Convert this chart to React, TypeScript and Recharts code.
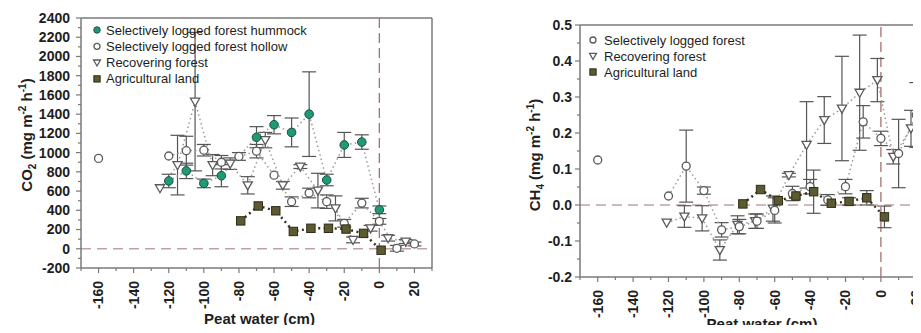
import React from "react";
import {
  ComposedChart,
  Line,
  XAxis,
  YAxis,
  ErrorBar,
  ReferenceLine,
  Label,
} from "recharts";

const FONT = "Arial, 'Liberation Sans', Helvetica, sans-serif";

// ---------- CO2 panel ----------
const hummockDepth = [-120, -110, -100, -90, -70, -60, -50, -40, -30, -20, -10, 0];
const hummockCO2 = [705, 810, 680, 760, 1160, 1290, 1210, 1400, 715, 1080, 1110, 405];
const hummockCO2Err = [70, 80, 45, 115, 110, 95, 150, 440, 60, 130, 75, 40];

// the deepest hollow reading stands alone (not joined to the rest)
const hollowFarDepth = [-160];
const hollowFarCO2 = [940];

const hollowDepth = [-120, -110, -100, -90, -80, -70, -60, -50, -40, -30, -20, -10, 0, 10, 20];
const hollowCO2 = [965, 1020, 1025, 900, 960, 1015, 765, 490, 580, 490, 265, 475, 285, 5, 50];
const hollowCO2Err = [0, 150, 60, 70, 40, 70, 0, 50, 50, 70, 40, 50, 30, 30, 20];

const recovDepth = [-125, -115, -105, -95, -85, -75, -65, -55, -45, -35, -25, -15, -5, 5, 15];
const recovCO2 = [630, 870, 1530, 870, 885, 660, 1130, 660, 855, 605, 420, 92, 213, 110, 75];
const recovCO2Err = [0, 310, 720, 110, 60, 90, 80, 40, 20, 180, 130, 30, 30, 30, 20];

const agriDepth = [-79, -69, -59, -49, -39, -29, -19, -9, 1];
const agriCO2 = [290, 445, 395, 180, 213, 213, 205, 160, -15];

const co2Ticks = [-200, -100, 0, 100, 200, 300, 400, 500, 600, 700, 800, 900, 1000, 1100, 1200, 1300, 1400, 1500, 1600, 1700, 1800, 1900, 2000, 2100, 2200, 2300, 2400];
const co2Labels = [-200, 0, 200, 400, 600, 800, 1000, 1200, 1400, 1600, 1800, 2000, 2200, 2400];

// ---------- CH4 panel ----------
const logFarDepth = [-160];
const logFarCH4 = [0.125];

const logDepth = [-120, -110, -100, -90, -80, -70, -60, -50, -40, -30, -20, -10, 0, 10, 20];
const logCH4 = [0.025, 0.108, 0.04, -0.069, -0.06, -0.045, -0.015, 0.032, 0.051, 0.014, 0.051, 0.231, 0.185, 0.143, 0.25];
const logCH4Err = [0, 0.1, 0.01, 0.02, 0.02, 0.02, 0.035, 0.02, 0.02, 0.015, 0.02, 0.045, 0.02, 0.095, 0.09];

const recovDepth2 = [-121, -111, -101, -91, -81, -71, -61, -52, -42, -32, -22, -12, -2, 7, 17];
const recovCH4 = [-0.049, -0.032, -0.037, -0.125, -0.055, -0.045, -0.01, 0.083, 0.167, 0.236, 0.268, 0.312, 0.347, 0.134, 0.213];
const recovCH4Err = [0, 0.03, 0.035, 0.028, 0.025, 0.02, 0.035, 0.005, 0.12, 0.065, 0.145, 0.16, 0.06, 0.02, 0.05];

const agriDepth2 = [-78, -68, -58, -48, -38, -28, -18, -8, 2];
const agriCH4 = [0.003, 0.043, 0.012, 0.025, 0.037, 0.005, 0.01, 0.02, -0.033];
const agriCH4Err = [0, 0, 0, 0, 0.06, 0, 0.01, 0.02, 0.03];

const ch4Ticks = [-0.2, -0.15, -0.1, -0.05, 0, 0.05, 0.1, 0.15, 0.2, 0.25, 0.3, 0.35, 0.4, 0.45, 0.5];
const ch4Labels = [-0.2, -0.1, 0, 0.1, 0.2, 0.3, 0.4, 0.5];

const depthTicks = [-170, -160, -150, -140, -130, -120, -110, -100, -90, -80, -70, -60, -50, -40, -30, -20, -10, 0, 10, 20, 30];
const depthLabels = [-160, -140, -120, -100, -80, -60, -40, -20, 0, 20];

const co2Legend = [
  { name: "Selectively logged forest hummock", kind: "green" },
  { name: "Selectively logged forest hollow", kind: "open" },
  { name: "Recovering forest", kind: "tri" },
  { name: "Agricultural land", kind: "square" },
];
const ch4Legend = [
  { name: "Selectively logged forest", kind: "open" },
  { name: "Recovering forest", kind: "tri" },
  { name: "Agricultural land", kind: "square" },
];

const toRows = (xs: number[], ys: number[], es?: number[]) =>
  xs.map((x, i) => ({ x, y: ys[i], e: es ? es[i] : 0 }));

const AXIS = "#7a7a7a";
const TEXT = "#1e1e1e";

function Marker({ kind, cx, cy, s = 1 }: { kind: string; cx: number; cy: number; s?: number }) {
  if (kind === "green")
    return <circle cx={cx} cy={cy} r={4.3 * s} fill="#1f9a76" stroke="#1d4f40" strokeWidth={1} />;
  if (kind === "open")
    return <circle cx={cx} cy={cy} r={4 * s} fill="#fff" stroke="#5a5a5a" strokeWidth={1.3} />;
  if (kind === "tri") {
    const a = 4.6 * s;
    return (
      <polygon
        points={`${cx - a},${cy - a * 0.75} ${cx + a},${cy - a * 0.75} ${cx},${cy + a}`}
        fill="#fff"
        stroke="#5a5a5a"
        strokeWidth={1.3}
      />
    );
  }
  const h = 4.2 * s;
  return <rect x={cx - h} y={cy - h} width={2 * h} height={2 * h} fill="#5c5a30" stroke="#2c2c18" strokeWidth={1} />;
}

const dotOf = (kind: string) => (p: any) =>
  <Marker key={`${kind}-${p.index}`} kind={kind} cx={p.cx} cy={p.cy} />;

function XTick({ x, y, payload }: any) {
  const major = depthLabels.includes(payload.value);
  return (
    <g>
      <line x1={x} y1={y} x2={x} y2={y + (major ? 5 : 3)} stroke={AXIS} strokeWidth={1.2} />
      {major && (
        <text
          x={x}
          y={y + 13}
          transform={`rotate(-90 ${x} ${y + 13})`}
          textAnchor="end"
          dy="0.35em"
          fontSize={14}
          fontWeight="bold"
          fontFamily={FONT}
          fill={TEXT}
        >
          {payload.value}
        </text>
      )}
    </g>
  );
}

function makeYTick(labels: number[], fmt: (v: number) => string, gap: number) {
  return ({ x, y, payload }: any) => {
    const major = labels.includes(payload.value);
    return (
      <g>
        <line x1={x} y1={y} x2={x - (major ? 5 : 3)} y2={y} stroke={AXIS} strokeWidth={1.2} />
        {major && (
          <text x={x - gap} y={y} dy="0.35em" textAnchor="end" fontSize={14} fontWeight="bold" fontFamily={FONT} fill={TEXT}>
            {fmt(payload.value)}
          </text>
        )}
      </g>
    );
  };
}

function YTitle({ viewBox, gas, sub, dx, dy }: any) {
  const cx = viewBox.x + dx;
  const cy = viewBox.y + viewBox.height / 2 + dy;
  return (
    <text
      x={cx}
      y={cy}
      transform={`rotate(-90 ${cx} ${cy})`}
      textAnchor="middle"
      dy="0.35em"
      fontSize={15}
      fontWeight="bold"
      fontFamily={FONT}
      fill={TEXT}
    >
      {gas}
      <tspan fontSize={10} dy={4}>{sub}</tspan>
      <tspan dy={-4}> (mg m</tspan>
      <tspan fontSize={10} dy={-6}>-2</tspan>
      <tspan dy={6}> h</tspan>
      <tspan fontSize={10} dy={-6}>-1</tspan>
      <tspan dy={6}>)</tspan>
    </text>
  );
}

function XTitle({ viewBox, dx, dy }: any) {
  return (
    <text
      x={viewBox.x + viewBox.width / 2 + dx}
      y={viewBox.y + dy}
      dy="0.35em"
      textAnchor="middle"
      fontSize={15}
      fontWeight="bold"
      fontFamily={FONT}
      fill={TEXT}
    >
      Peat water (cm)
    </text>
  );
}

function LegendBox({ items, left, top, symX, textX, y0, step }: any) {
  return (
    <svg style={{ position: "absolute", left, top }} width={420} height={100}>
      {items.map((it: any, i: number) => (
        <g key={it.name}>
          <Marker kind={it.kind} cx={symX} cy={y0 + i * step} s={0.75} />
          <text x={textX} y={y0 + i * step} dy="0.35em" fontSize={13} fontFamily={FONT} fill={TEXT}>
            {it.name}
          </text>
        </g>
      ))}
    </svg>
  );
}

const forestLine = { stroke: "#9a9a9a", strokeWidth: 1.5, strokeDasharray: "1.5 3" };
const agriLine = { stroke: "#2f2f22", strokeWidth: 2.4, strokeDasharray: "2 3.5" };
const errStyle = { width: 7, stroke: "#555", strokeWidth: 1.2 };

export default function App() {
  const CO2YTick = makeYTick(co2Labels, (v) => String(v), 11);
  const CH4YTick = makeYTick(ch4Labels, (v) => v.toFixed(1), 8);

  return (
    <div style={{ position: "relative", width: 921, height: 333, margin: -8, overflow: "hidden", background: "#fff" }}>
      <div style={{ position: "absolute", left: 0, top: 0 }}>
        <ComposedChart width={440} height={333} margin={{ top: 18, right: 8, bottom: 0, left: 0 }}>
          <XAxis
            type="number"
            dataKey="x"
            domain={[-170, 30]}
            ticks={depthTicks}
            interval={0}
            allowDataOverflow
            height={65}
            tickSize={0}
            tickMargin={0}
            tickLine={false}
            tick={<XTick />}
            axisLine={{ stroke: AXIS, strokeWidth: 1.5 }}
          >
            <Label content={(p: any) => <XTitle viewBox={p.viewBox} dx={3} dy={51} />} />
          </XAxis>
          <YAxis
            type="number"
            domain={[-200, 2400]}
            ticks={co2Ticks}
            interval={0}
            allowDataOverflow
            width={81}
            tickSize={0}
            tickMargin={0}
            tickLine={false}
            tick={<CO2YTick />}
            axisLine={{ stroke: AXIS, strokeWidth: 1.5 }}
          >
            <Label content={(p: any) => <YTitle viewBox={p.viewBox} gas="CO" sub="2" dx={27} dy={-8} />} />
          </YAxis>
          <ReferenceLine y={2400} stroke={AXIS} strokeWidth={1.5} />
          <ReferenceLine x={30} stroke={AXIS} strokeWidth={1.5} />
          <ReferenceLine y={0} stroke="#c4a2a2" strokeWidth={1.5} strokeDasharray="10 6" />
          <ReferenceLine x={0} stroke="#a5706e" strokeWidth={1.3} strokeDasharray="10 5" />

          <Line data={toRows(recovDepth, recovCO2, recovCO2Err)} dataKey="y" {...forestLine} dot={dotOf("tri")} activeDot={false} isAnimationActive={false}>
            <ErrorBar dataKey="e" direction="y" {...errStyle} />
          </Line>
          <Line data={toRows(hollowDepth, hollowCO2, hollowCO2Err)} dataKey="y" {...forestLine} dot={dotOf("open")} activeDot={false} isAnimationActive={false}>
            <ErrorBar dataKey="e" direction="y" {...errStyle} />
          </Line>
          <Line data={toRows(hollowFarDepth, hollowFarCO2)} dataKey="y" stroke="none" dot={dotOf("open")} activeDot={false} isAnimationActive={false} />
          <Line data={toRows(hummockDepth, hummockCO2, hummockCO2Err)} dataKey="y" {...forestLine} dot={dotOf("green")} activeDot={false} isAnimationActive={false}>
            <ErrorBar dataKey="e" direction="y" {...errStyle} />
          </Line>
          <Line data={toRows(agriDepth, agriCO2)} dataKey="y" {...agriLine} dot={dotOf("square")} activeDot={false} isAnimationActive={false} />
        </ComposedChart>
      </div>
      <LegendBox items={co2Legend} left={0} top={0} symX={97} textX={106} y0={30} step={16.3} />

      <div style={{ position: "absolute", left: 480, top: 0 }}>
        <ComposedChart width={460} height={333} margin={{ top: 25, right: 6, bottom: 0, left: 0 }}>
          <XAxis
            type="number"
            dataKey="x"
            domain={[-170, 30]}
            ticks={depthTicks}
            interval={0}
            allowDataOverflow
            height={56}
            tickSize={0}
            tickMargin={0}
            tickLine={false}
            tick={<XTick />}
            axisLine={{ stroke: AXIS, strokeWidth: 1.5 }}
          >
            <Label content={(p: any) => <XTitle viewBox={p.viewBox} dx={5} dy={47} />} />
          </XAxis>
          <YAxis
            type="number"
            domain={[-0.2, 0.5]}
            ticks={ch4Ticks}
            interval={0}
            allowDataOverflow
            width={100}
            tickSize={0}
            tickMargin={0}
            tickLine={false}
            tick={<CH4YTick />}
            axisLine={{ stroke: AXIS, strokeWidth: 1.5 }}
          >
            <Label content={(p: any) => <YTitle viewBox={p.viewBox} gas="CH" sub="4" dx={55} dy={4} />} />
          </YAxis>
          <ReferenceLine y={0.5} stroke={AXIS} strokeWidth={1.5} />
          <ReferenceLine y={0} stroke="#c4a2a2" strokeWidth={1.5} strokeDasharray="10 6" />
          <ReferenceLine x={0} stroke="#a5706e" strokeWidth={1.3} strokeDasharray="10 5" />

          <Line data={toRows(recovDepth2, recovCH4, recovCH4Err)} dataKey="y" {...forestLine} dot={dotOf("tri")} activeDot={false} isAnimationActive={false}>
            <ErrorBar dataKey="e" direction="y" {...errStyle} />
          </Line>
          <Line data={toRows(logDepth, logCH4, logCH4Err)} dataKey="y" {...forestLine} dot={dotOf("open")} activeDot={false} isAnimationActive={false}>
            <ErrorBar dataKey="e" direction="y" {...errStyle} />
          </Line>
          <Line data={toRows(logFarDepth, logFarCH4)} dataKey="y" stroke="none" dot={dotOf("open")} activeDot={false} isAnimationActive={false} />
          <Line data={toRows(agriDepth2, agriCH4, agriCH4Err)} dataKey="y" {...agriLine} dot={dotOf("square")} activeDot={false} isAnimationActive={false}>
            <ErrorBar dataKey="e" direction="y" {...errStyle} />
          </Line>
        </ComposedChart>
      </div>
      <LegendBox items={ch4Legend} left={480} top={0} symX={113} textX={124} y0={40} step={16} />
    </div>
  );
}
